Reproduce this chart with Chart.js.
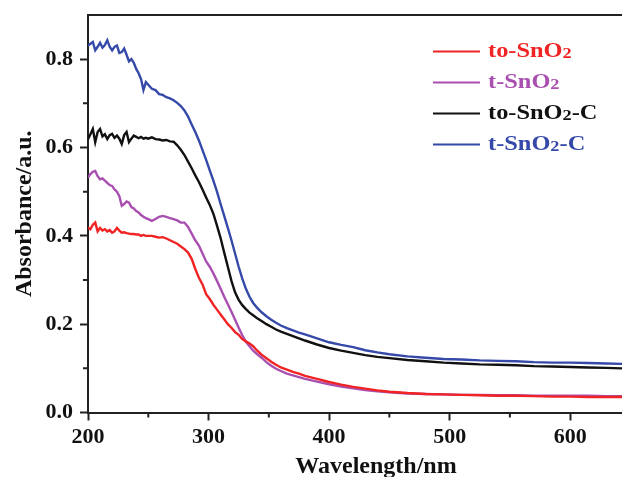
<!DOCTYPE html>
<html>
<head>
<meta charset="utf-8">
<script src="https://cdn.jsdelivr.net/npm/chart.js@4.4.1/dist/chart.umd.min.js"></script>
<style>
  html, body { margin: 0; padding: 0; background: #fff; }
  canvas { display: block; }
</style>
</head>
<body>
<canvas id="chart" width="622" height="477"></canvas>
<script>
// longueurs d'onde communes aux quatre courbes (nm)
const wavelength = [
  200,202,204,206,208,210,212,214,216,218,220,222,224,226,228,230,232,234,236,238,240,242,244,246,248,250,
  253,256,259,262,265,268,271,274,277,280,283,286,289,292,295,298,301,304,307,310,313,316,319,322,325,328,331,334,337,340,
  344,348,352,356,360,365,370,375,380,390,400,410,420,430,440,450,465,480,495,510,525,540,555,570,585,600,615,630,643
]

// absorbance
const toSnO2 = [
  .419,.415,.425,.43,.41,.418,.412,.415,.41,.413,.407,.41,.418,.412,.407,.408,.406,.405,.404,.404,.403,.403,.4,.402,.4,.4,
  .4,.398,.396,.397,.394,.39,.386,.382,.376,.37,.362,.348,.325,.305,.29,.268,.257,.244,.233,.222,.211,.2,.192,.182,.176,.166,.161,.156,.15,.141,
  .131,.123,.115,.108,.102,.097,.092,.088,.083,.076,.069,.063,.058,.054,.05,.047,.044,.042,.041,.04,.039,.038,.038,.037,.036,.036,.035,.035,.035
]
const tSnO2 = [
  .532,.54,.545,.547,.535,.528,.53,.525,.52,.515,.513,.505,.5,.49,.468,.472,.478,.475,.465,.462,.456,.453,.447,.443,.44,.438,
  .434,.438,.443,.445,.443,.44,.438,.435,.43,.43,.42,.405,.39,.378,.36,.342,.33,.315,.298,.28,.262,.245,.228,.21,.192,.175,.16,.15,.14,.133,
  .124,.114,.106,.099,.094,.088,.084,.08,.076,.07,.064,.059,.055,.051,.048,.046,.043,.042,.041,.04,.04,.039,.039,.038,.038,.038,.038,.037,.037
]
const toSnO2C = [
  .619,.63,.642,.612,.635,.642,.625,.63,.619,.628,.631,.622,.627,.62,.608,.628,.635,.612,.62,.627,.624,.621,.624,.62,.622,.62,
  .623,.619,.618,.616,.617,.614,.613,.605,.595,.583,.568,.553,.537,.522,.505,.487,.47,.45,.423,.395,.362,.33,.298,.272,.255,.243,.234,.226,.22,.214,
  .207,.2,.194,.188,.183,.178,.173,.168,.163,.154,.146,.14,.135,.13,.126,.123,.119,.116,.113,.111,.109,.108,.107,.105,.104,.103,.102,.101,.1
]
const tSnO2C = [
  .831,.835,.839,.82,.828,.837,.826,.832,.843,.828,.82,.828,.831,.814,.816,.824,.81,.795,.8,.792,.778,.768,.755,.73,.748,.742,
  .733,.73,.721,.719,.714,.711,.707,.701,.694,.684,.67,.652,.635,.616,.594,.572,.548,.525,.5,.472,.445,.418,.39,.36,.33,.303,.28,.262,.248,.238,
  .227,.218,.21,.203,.197,.191,.186,.181,.177,.168,.159,.153,.148,.141,.136,.132,.127,.124,.121,.12,.118,.117,.116,.114,.113,.113,.112,.111,.11
]

const seriesNames = ['to-SnO₂', 't-SnO₂', 'to-SnO₂-C', 't-SnO₂-C']
const seriesColors = ['#f02424', '#a94fb0', '#111111', '#3549a8']
const xTickValues = [200, 300, 400, 500, 600]
const yTickValues = [0, 0.2, 0.4, 0.6, 0.8]
const xMinorTicks = [250, 350, 450, 550]
const yMinorTicks = [0.1, 0.3, 0.5, 0.7]

const serif = "'Liberation Serif', 'Times New Roman', serif"
const axisColor = '#222'

const series = [toSnO2, tSnO2, toSnO2C, tSnO2C]
const datasets = series.map((values, i) => ({
  label: seriesNames[i],
  data: wavelength.map((w, j) => ({ x: w, y: values[j] })),
  borderColor: seriesColors[i],
  borderWidth: 2.4,
  pointRadius: 0,
  tension: 0
}))

// cadre du haut, petites graduations, titres des axes et legende
const decorPlugin = {
  id: 'decor',
  afterDraw(chart) {
    const ctx = chart.ctx
    const area = chart.chartArea
    const xs = chart.scales.x
    const ys = chart.scales.y
    ctx.save()
    ctx.strokeStyle = axisColor
    ctx.lineWidth = 2
    ctx.beginPath()
    ctx.moveTo(area.left - 1, area.top)
    ctx.lineTo(area.right, area.top)
    xMinorTicks.forEach(v => {
      const px = xs.getPixelForValue(v)
      ctx.moveTo(px, area.bottom)
      ctx.lineTo(px, area.bottom + 5)
    })
    yMinorTicks.forEach(v => {
      const py = ys.getPixelForValue(v)
      ctx.moveTo(area.left, py)
      ctx.lineTo(area.left - 5, py)
    })
    ctx.stroke()

    // titres des axes
    ctx.fillStyle = '#111'
    ctx.font = 'bold 24px ' + serif
    ctx.textAlign = 'center'
    ctx.textBaseline = 'alphabetic'
    ctx.fillText('Wavelength/nm', 376, 473)
    ctx.translate(25, (area.top + area.bottom) / 2)
    ctx.rotate(-Math.PI / 2)
    ctx.textBaseline = 'middle'
    ctx.fillText('Absorbance/a.u.', 0, 0)
    ctx.restore()

    // legende avec indice
    chart.data.datasets.forEach((ds, i) => {
      const y = 51.5 + i * 31
      ctx.save()
      ctx.strokeStyle = ds.borderColor
      ctx.lineWidth = 2
      ctx.beginPath()
      ctx.moveTo(433, y)
      ctx.lineTo(480, y)
      ctx.stroke()
      ctx.translate(488, y)
      ctx.scale(1.22, 1)
      ctx.fillStyle = ds.borderColor
      ctx.textAlign = 'left'
      ctx.textBaseline = 'middle'
      let x = 0
      const parts = ds.label.split('₂')
      parts.forEach((part, k) => {
        ctx.font = 'bold 20px ' + serif
        ctx.fillText(part, x, 0)
        x += ctx.measureText(part).width
        if (k < parts.length - 1) {
          ctx.font = 'bold 15px ' + serif
          ctx.fillText('2', x, 3)
          x += ctx.measureText('2').width
        }
      })
      ctx.restore()
    })
  }
}

new Chart(document.getElementById('chart'), {
  type: 'line',
  data: { datasets },
  options: {
    responsive: false,
    animation: false,
    layout: { padding: { top: 15, right: 0, left: 0, bottom: 0 } },
    plugins: { legend: { display: false }, tooltip: { enabled: false } },
    scales: {
      x: {
        type: 'linear',
        min: 200,
        max: 643,
        afterBuildTicks: scale => { scale.ticks = xTickValues.map(v => ({ value: v })) },
        afterFit: scale => {
          scale.height = 64.5
          scale.paddingLeft = 0
          scale.paddingRight = 0
        },
        border: { color: axisColor, width: 2 },
        grid: { drawOnChartArea: false, drawTicks: true, tickLength: 8, color: axisColor, tickWidth: 2 },
        ticks: {
          autoSkip: false,
          maxRotation: 0,
          padding: 4,
          color: '#111',
          font: { family: serif, size: 22, weight: 'bold' },
          callback: v => String(v)
        }
      },
      y: {
        min: 0,
        max: 0.9,
        afterBuildTicks: scale => { scale.ticks = yTickValues.map(v => ({ value: v })) },
        afterFit: scale => {
          scale.width = 88
          scale.paddingTop = 0
          scale.paddingBottom = 0
        },
        border: { color: axisColor, width: 2 },
        grid: { drawOnChartArea: false, drawTicks: true, tickLength: 8, color: axisColor, tickWidth: 2 },
        ticks: {
          padding: 7,
          color: '#111',
          font: { family: serif, size: 22, weight: 'bold' },
          callback: v => Number(v).toFixed(1)
        }
      }
    }
  },
  plugins: [decorPlugin]
})
</script>
</body>
</html>
